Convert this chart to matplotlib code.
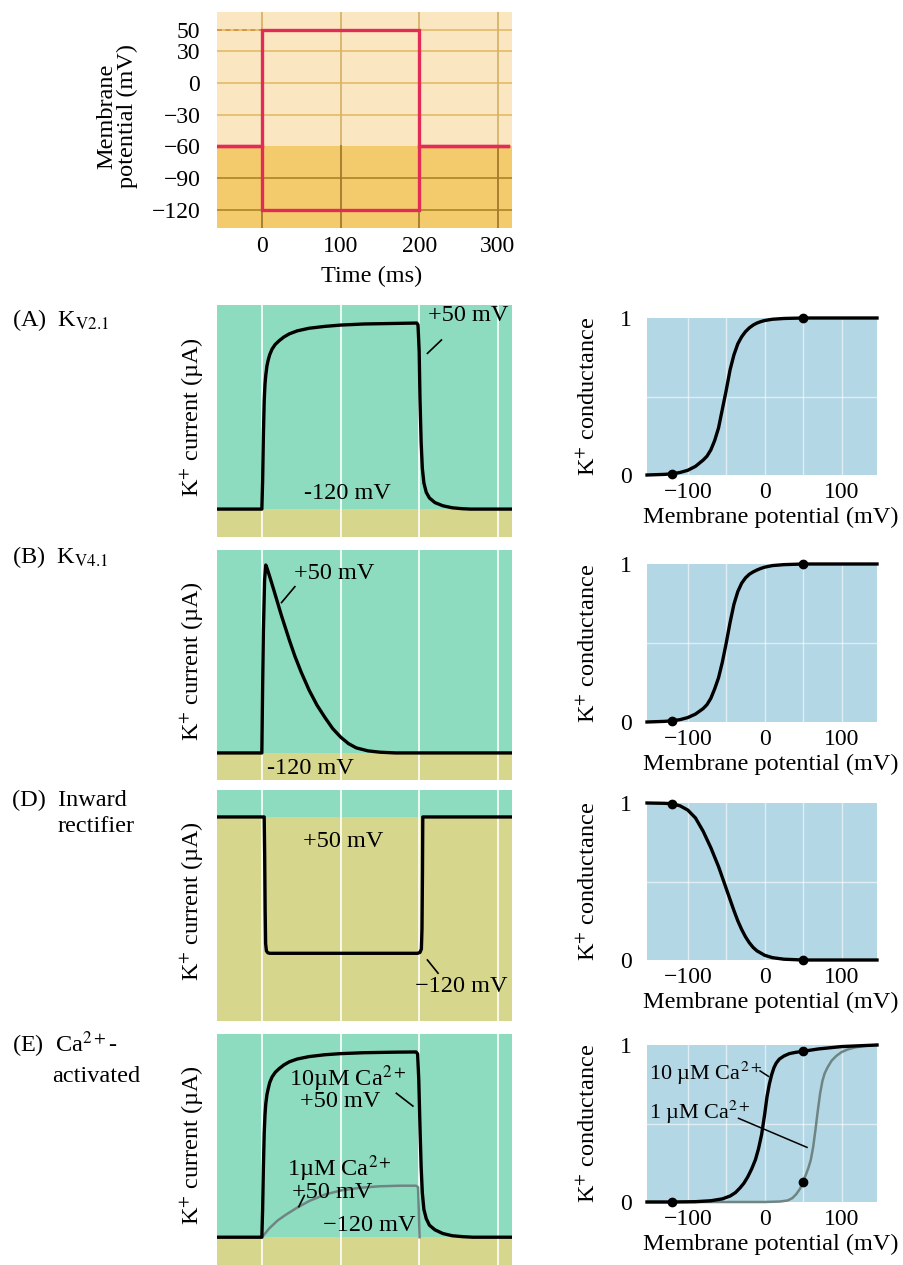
import numpy as np
import matplotlib
matplotlib.use("Agg")
import matplotlib.pyplot as plt

plt.rcParams['font.family'] = ['Liberation Serif', 'DejaVu Serif']
plt.rcParams['mathtext.fontset'] = 'stix'
plt.rcParams['axes.unicode_minus'] = True

# ---------------- data ----------------
# voltage-clamp protocol
hold_mv = -60
test_mv = [50, -120]
pulse_on, pulse_off, trace_end = 0, 200, 313
volt_ticks = [50, 30, 0, -30, -60, -90, -120]
time_ticks = [0, 100, 200, 300]

# K+ currents (normalised) vs time (ms)
kv21_t = [-57, 0, 1, 2, 3, 4, 5, 6.5, 8, 10, 13, 17, 22, 28, 35, 45, 60, 80, 100,
          130, 170, 197, 198.5, 200, 201, 202.5, 204, 206, 209, 213, 220, 230, 242,
          255, 265, 318]
kv21_i = [0, 0, 0.15, 0.40, 0.58, 0.67, 0.72, 0.77, 0.80, 0.83, 0.86, 0.885, 0.905,
          0.925, 0.942, 0.958, 0.972, 0.982, 0.989, 0.995, 0.998, 1.0, 0.99, 0.85,
          0.6, 0.36, 0.22, 0.14, 0.09, 0.06, 0.035, 0.018, 0.007, 0.002, 0, 0]

kv41_t = [-57, 0, 1, 2, 3.5, 5, 6, 8, 11, 15, 20, 25, 30, 35, 42, 50, 60, 70, 80,
          90, 100, 110, 120, 135, 150, 170, 318]
kv41_i = [0, 0, 0.35, 0.65, 0.92, 1.0, 0.99, 0.965, 0.925, 0.87, 0.8, 0.73, 0.665,
          0.6, 0.515, 0.43, 0.335, 0.255, 0.19, 0.13, 0.085, 0.05, 0.027, 0.011,
          0.004, 0, 0]

kir_t = [-57, 3, 3.6, 4.2, 4.8, 5.8, 7.5, 10, 198, 201, 202.8, 203.6, 204.2, 204.6, 318]
kir_i = [0, 0, -0.2, -0.5, -0.68, -0.72, -0.73, -0.733, -0.733, -0.728, -0.71,
         -0.6, -0.3, 0, 0]

bk10_t = [-57, 0, 1, 2, 3, 4, 5, 6.5, 8, 10, 13, 17, 22, 28, 35, 45, 60, 80, 100,
          130, 170, 196, 198, 199.5, 201, 202.5, 204, 206, 209, 213, 220, 230, 242,
          255, 268, 318]
bk10_i = [0, 0, 0.15, 0.38, 0.56, 0.66, 0.72, 0.77, 0.80, 0.835, 0.865, 0.89, 0.91,
          0.93, 0.947, 0.962, 0.975, 0.985, 0.991, 0.996, 0.999, 1.0, 0.99, 0.85,
          0.6, 0.38, 0.24, 0.15, 0.1, 0.065, 0.04, 0.02, 0.008, 0.003, 0, 0]

bk1_t = [0, 5, 10, 20, 30, 45, 60, 80, 100, 125, 150, 175, 196, 198.5, 199.5, 200.5]
bk1_i = [0, 0.025, 0.05, 0.09, 0.12, 0.16, 0.195, 0.23, 0.252, 0.267, 0.275, 0.278,
         0.278, 0.27, 0.15, 0]

# K+ conductance vs membrane potential (mV)
gv_v = [-153, -130, -120, -110, -100, -90, -80, -75, -70, -65, -60, -55, -50, -45,
        -40, -35, -30, -25, -20, -15, -10, -5, 0, 10, 25, 50, 146]
g_kv21 = [0, 0.004, 0.008, 0.016, 0.03, 0.055, 0.095, 0.12, 0.16, 0.22, 0.30, 0.42,
          0.54, 0.67, 0.765, 0.835, 0.88, 0.913, 0.937, 0.955, 0.968, 0.977, 0.984,
          0.992, 0.997, 1.0, 1.0]
g_kv41 = [0, 0.004, 0.008, 0.015, 0.028, 0.05, 0.085, 0.11, 0.15, 0.21, 0.28, 0.38,
          0.5, 0.63, 0.745, 0.825, 0.878, 0.912, 0.935, 0.95, 0.962, 0.972, 0.98,
          0.99, 0.996, 1.0, 1.0]

kir_v = [-153, -130, -120, -110, -100, -90, -80, -70, -60, -55, -50, -45, -40, -35,
         -30, -25, -20, -15, -10, 0, 10, 25, 50, 146]
g_kir = [1, 0.998, 0.995, 0.982, 0.955, 0.905, 0.82, 0.715, 0.595, 0.525, 0.455,
         0.385, 0.315, 0.25, 0.195, 0.148, 0.11, 0.08, 0.058, 0.03, 0.015, 0.005, 0, 0]

bk10_v = [-153, -120, -90, -70, -55, -45, -38, -32, -27, -22, -17, -12, -8, -4, 0,
          3, 6, 9, 12, 15, 19, 25, 32, 40, 50, 70, 100, 146]
g_bk10 = [0, 0, 0.002, 0.008, 0.02, 0.038, 0.06, 0.09, 0.12, 0.16, 0.21, 0.27, 0.34,
          0.43, 0.56, 0.67, 0.75, 0.81, 0.855, 0.885, 0.91, 0.93, 0.945, 0.953, 0.96,
          0.975, 0.99, 1.0]
bk1_v = [-153, 0, 20, 30, 36, 41, 46, 50, 54, 57, 60, 63, 66, 69, 72, 75, 78, 82,
         87, 93, 100, 108, 118, 130, 146]
g_bk1 = [0, 0, 0.003, 0.01, 0.025, 0.05, 0.085, 0.13, 0.18, 0.22, 0.27, 0.35, 0.46,
         0.58, 0.69, 0.77, 0.82, 0.86, 0.9, 0.93, 0.955, 0.972, 0.985, 0.994, 1.0]

dot_mv = [-120, 50]

# ---------------- style ----------------
W, H = 904, 1265
GOLD_LIGHT = '#fae7c2'
GOLD_DARK = '#f3cb6c'
RED = '#e32b57'
TEAL = '#8edcc0'
KHAKI = '#d6d68c'
BLUE = '#b4d7e5'
GRAY = '#6f8584'
FS = 17.5
TFS = 17

fig = plt.figure(figsize=(W / 100, H / 100), dpi=100)


def axes_px(l, t, r, b):
    return fig.add_axes([l / W, 1 - b / H, (r - l) / W, (b - t) / H])


def ftext(x, y, s, **kw):
    kw.setdefault('fontsize', FS)
    kw.setdefault('ha', 'center')
    kw.setdefault('va', 'center')
    return fig.text(x / W, 1 - y / H, s, **kw)


def clean(ax):
    for sp in ax.spines.values():
        sp.set_visible(False)


# ---------------- protocol panel ----------------
ax0 = axes_px(217, 12, 512, 228)
clean(ax0)
ax0.set_xlim(-57, 318)
ax0.set_ylim(-137, 67)
ax0.axhspan(-137, hold_mv, color=GOLD_DARK, lw=0, zorder=0)
ax0.axhspan(hold_mv, 67, color=GOLD_LIGHT, lw=0, zorder=0)
for v in volt_ticks:
    if v == hold_mv:
        continue
    col = '#e6bd6e' if v > hold_mv else '#b3892f'
    ax0.axhline(v, color=col, lw=1.3, zorder=1)
ax0.plot([-57, pulse_on], [test_mv[0]] * 2, color='#d98f3a', lw=1.2,
         ls=(0, (3, 2)), zorder=2)
for t in time_ticks:
    ax0.plot([t, t], [hold_mv, 67], color='#d8b46a', lw=1.3, zorder=1)
    ax0.plot([t, t], [-137, hold_mv], color='#a27a2a', lw=1.3, zorder=1)
for v in test_mv:
    ax0.plot([-57, pulse_on, pulse_on, pulse_off, pulse_off, trace_end],
             [hold_mv, hold_mv, v, v, hold_mv, hold_mv],
             color=RED, lw=2.4, zorder=3, solid_joinstyle='miter')
ax0.set_xticks(time_ticks)
ax0.set_yticks(volt_ticks)
ax0.tick_params(length=0, labelsize=TFS)
ax0.tick_params(axis='y', pad=12)
ax0.tick_params(axis='x', pad=6)
ftext(117, 116, 'Membrane\npotential (mV)', rotation=90, linespacing=0.95)
ftext(372, 276, 'Time (ms)')

# ---------------- current panels ----------------
current_boxes = [(305, 537, (-0.15, 1.097)),
                 (550, 780, (-0.144, 1.08)),
                 (790, 1021, (-1.097, 0.145)),
                 (1034, 1265, (-0.15, 1.097))]
current_axes = []
for top, bot, yl in current_boxes:
    ax = axes_px(217, top, 512, bot)
    clean(ax)
    ax.set_xlim(-57, 318)
    ax.set_ylim(*yl)
    ax.set_facecolor(TEAL)
    ax.axhspan(yl[0], 0, color=KHAKI, lw=0, zorder=0)
    for t in time_ticks:
        ax.axvline(t, color='white', lw=1.4, alpha=0.85, zorder=1)
    ax.set_xticks([])
    ax.set_yticks([])
    ftext(192, (top + bot) / 2 - 4, r'K$^{+}$ current (µA)', rotation=90)
    current_axes.append(ax)

axA, axB, axD, axE = current_axes
LW = 2.4
axA.plot(kv21_t, kv21_i, color='black', lw=LW, zorder=3)
axA.text(262, 1.04, '+50 mV', fontsize=FS, ha='center', va='center')
axA.plot([210.5, 228.3], [0.837, 0.909], color='black', lw=1.2)
axA.text(109, 0.086, '-120 mV', fontsize=FS, ha='center', va='center')

axB.plot(kv41_t, kv41_i, color='black', lw=LW, zorder=3)
axB.text(92, 0.956, '+50 mV', fontsize=FS, ha='center', va='center')
axB.plot([25, 42], [0.80, 0.885], color='black', lw=1.2)
axB.text(62, -0.085, '-120 mV', fontsize=FS, ha='center', va='center')

axD.plot(kir_t, kir_i, color='black', lw=LW, zorder=3)
axD.text(103, -0.134, '+50 mV', fontsize=FS, ha='center', va='center')
axD.plot([210.5, 224], [-0.769, -0.84], color='black', lw=1.2)
axD.text(254, -0.914, '−120 mV', fontsize=FS, ha='center', va='center')

axE.plot(bk1_t, bk1_i, color=GRAY, lw=1.8, zorder=2)
axE.plot(bk10_t, bk10_i, color='black', lw=LW, zorder=3)
axE.text(109, 0.858, r'10µM Ca$^{2+}$', fontsize=FS, ha='center', va='center')
axE.text(99, 0.731, '+50 mV', fontsize=FS, ha='center', va='center')
axE.plot([171, 192], [0.777, 0.708], color='black', lw=1.2)
axE.text(98, 0.371, r'1µM Ca$^{2+}$', fontsize=FS, ha='center', va='center')
axE.text(89, 0.24, '+50 mV', fontsize=FS, ha='center', va='center')
axE.plot([47, 54], [0.165, 0.225], color='black', lw=1.2)
axE.text(137, 0.065, '−120 mV', fontsize=FS, ha='center', va='center')

# ---------------- conductance panels ----------------
g_boxes = [318, 475], [564, 722], [803, 960], [1045, 1202]
g_axes = []
for top, bot in g_boxes:
    ax = axes_px(647, top, 877, bot)
    clean(ax)
    ax.set_xlim(-153, 146)
    ax.set_ylim(0, 1)
    ax.set_facecolor(BLUE)
    for v in [-100, -50, 0, 50, 100]:
        ax.axvline(v, color='white', lw=1.0, alpha=0.6, zorder=1)
    ax.axhline(0.5, color='white', lw=1.0, alpha=0.6, zorder=1)
    ax.set_xticks([-100, 0, 100])
    ax.set_yticks([0, 1])
    ax.tick_params(length=0, labelsize=TFS)
    ax.tick_params(axis='y', pad=11)
    ax.tick_params(axis='x', pad=5)
    ftext(589, (top + bot) / 2, r'K$^{+}$ conductance', rotation=90)
    ftext(771, bot + 42, 'Membrane potential (mV)')
    g_axes.append(ax)


def g_curve(ax, v, g, color='black', lw=2.4):
    ax.plot(v, g, color=color, lw=lw, clip_on=False, zorder=3)


def g_dots(ax, v, g, which=dot_mv):
    ax.plot(which, np.interp(which, v, g), 'o', color='black', ms=6,
            clip_on=False, zorder=4)


g_curve(g_axes[0], gv_v, g_kv21)
g_dots(g_axes[0], gv_v, g_kv21)
g_curve(g_axes[1], gv_v, g_kv41)
g_dots(g_axes[1], gv_v, g_kv41)
g_curve(g_axes[2], kir_v, g_kir)
g_dots(g_axes[2], kir_v, g_kir)
axg = g_axes[3]
g_curve(axg, bk1_v, g_bk1, color=GRAY, lw=1.8)
g_curve(axg, bk10_v, g_bk10)
g_dots(axg, bk10_v, g_bk10)
g_dots(axg, bk1_v, g_bk1, which=[50])
axg.text(-151, 0.82, r'10 µM Ca$^{2+}$', fontsize=16, ha='left', va='center')
axg.plot([-6, 5], [0.835, 0.80], color='black', lw=1.1)
axg.text(-151, 0.573, r'1 µM Ca$^{2+}$', fontsize=16, ha='left', va='center')
axg.plot([-34, 55], [0.533, 0.348], color='black', lw=1.1)

# ---------------- panel titles ----------------
ftext(12, 320, r'(A)  K$_{\mathrm{V2.1}}$', ha='left')
ftext(12, 557, r'(B)  K$_{\mathrm{V4.1}}$', ha='left')
ftext(12, 800, '(D)  Inward', ha='left')
ftext(58, 827, 'rectifier', ha='left')
ftext(12, 1045, r'(E)  Ca$^{2+}$-', ha='left')
ftext(52, 1077, 'activated', ha='left')

fig.savefig('out.png', dpi=100)
